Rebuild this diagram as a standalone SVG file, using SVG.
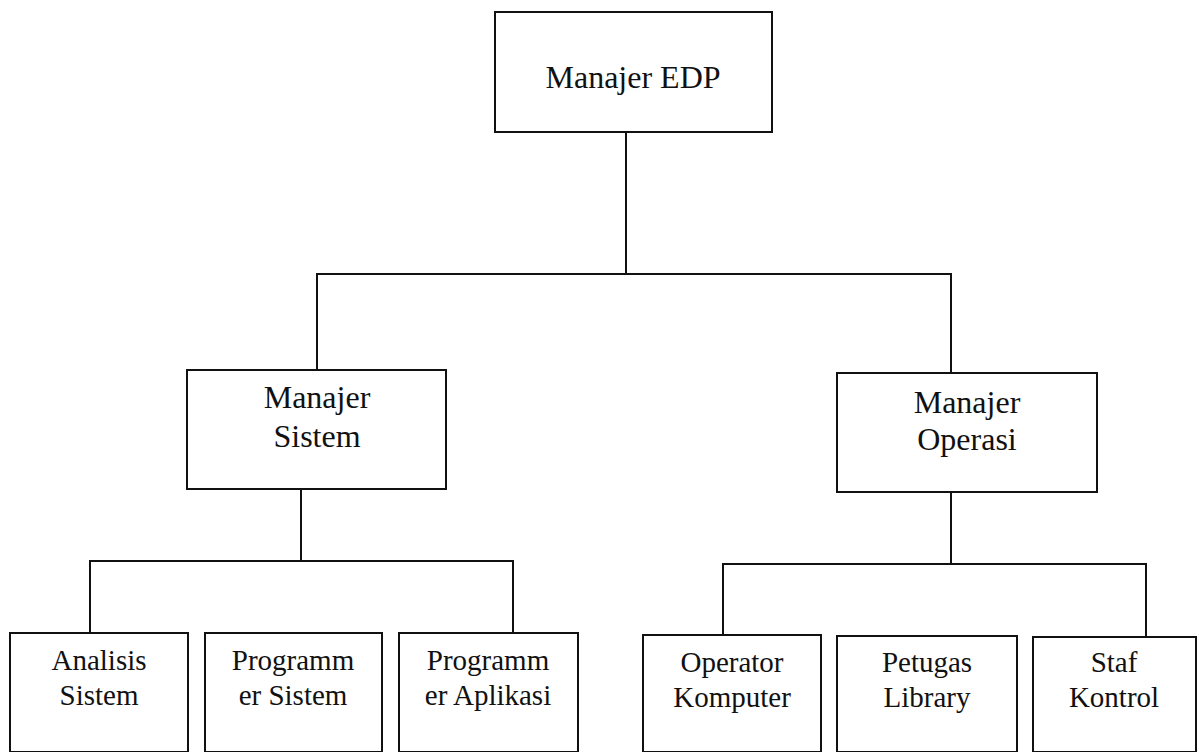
<svg xmlns="http://www.w3.org/2000/svg" width="1199" height="752" viewBox="0 0 1199 752">
<style>
.box{fill:#fff;stroke:#111;stroke-width:2}
.con{fill:none;stroke:#111;stroke-width:2}
</style>
<rect width="1199" height="752" fill="#fff"/>
<g id="connectors">
<path class="con" d="M626 132V274M317 370V274H951V373"/>
<path class="con" d="M301 489V561M90 633V561H513V633"/>
<path class="con" d="M951 492V564M723 635V564H1146V636"/>
</g>
<g id="manajer-edp"><rect class="box" x="495" y="12" width="277" height="120"/><text x="633" y="88" font-family="Liberation Serif" font-size="32" fill="#111" text-anchor="middle">Manajer EDP</text></g>
<g id="manajer-sistem"><rect class="box" x="187" y="370" width="259" height="119"/><text x="317" y="408" font-family="Liberation Serif" font-size="32" fill="#111" text-anchor="middle">Manajer</text><text x="317" y="447" font-family="Liberation Serif" font-size="32" fill="#111" text-anchor="middle">Sistem</text></g>
<g id="manajer-operasi"><rect class="box" x="837" y="373" width="260" height="119"/><text x="967" y="413" font-family="Liberation Serif" font-size="32" fill="#111" text-anchor="middle">Manajer</text><text x="967" y="450" font-family="Liberation Serif" font-size="32" fill="#111" text-anchor="middle">Operasi</text></g>
<g id="analisis-sistem"><rect class="box" x="10" y="633" width="178" height="119"/><text x="99" y="670" font-family="Liberation Serif" font-size="29" fill="#111" text-anchor="middle">Analisis</text><text x="99" y="705" font-family="Liberation Serif" font-size="29" fill="#111" text-anchor="middle">Sistem</text></g>
<g id="programmer-sistem"><rect class="box" x="205" y="633" width="177" height="119"/><text x="293" y="670" font-family="Liberation Serif" font-size="29" fill="#111" text-anchor="middle">Programm</text><text x="293" y="705" font-family="Liberation Serif" font-size="29" fill="#111" text-anchor="middle">er Sistem</text></g>
<g id="programmer-aplikasi"><rect class="box" x="399" y="633" width="179" height="119"/><text x="488" y="670" font-family="Liberation Serif" font-size="29" fill="#111" text-anchor="middle">Programm</text><text x="488" y="705" font-family="Liberation Serif" font-size="29" fill="#111" text-anchor="middle">er Aplikasi</text></g>
<g id="operator-komputer"><rect class="box" x="643" y="635" width="178" height="117"/><text x="732" y="672" font-family="Liberation Serif" font-size="29" fill="#111" text-anchor="middle">Operator</text><text x="732" y="707" font-family="Liberation Serif" font-size="29" fill="#111" text-anchor="middle">Komputer</text></g>
<g id="petugas-library"><rect class="box" x="837" y="636" width="180" height="116"/><text x="927" y="672" font-family="Liberation Serif" font-size="29" fill="#111" text-anchor="middle">Petugas</text><text x="927" y="707" font-family="Liberation Serif" font-size="29" fill="#111" text-anchor="middle">Library</text></g>
<g id="staf-kontrol"><rect class="box" x="1033" y="637" width="163" height="115"/><text x="1114" y="672" font-family="Liberation Serif" font-size="29" fill="#111" text-anchor="middle">Staf</text><text x="1114" y="707" font-family="Liberation Serif" font-size="29" fill="#111" text-anchor="middle">Kontrol</text></g>
</svg>
